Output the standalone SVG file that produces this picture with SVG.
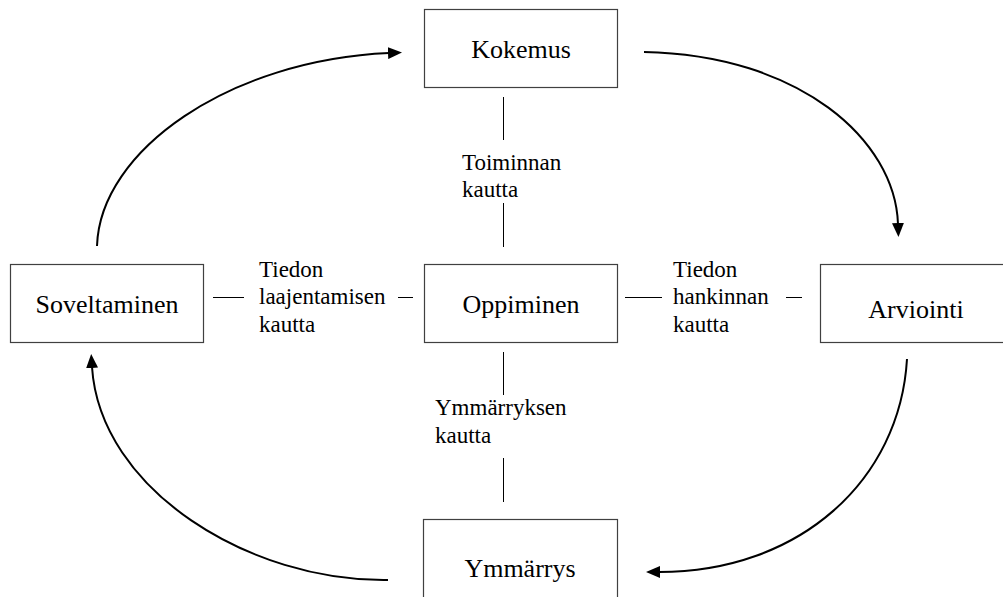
<svg xmlns="http://www.w3.org/2000/svg" width="1003" height="597" viewBox="0 0 1003 597">
<defs>
<style>
.box{fill:#fff;stroke:#404040;stroke-width:1.2}
.nt{font-size:26px;fill:#000;text-anchor:middle}
.lt{font-size:23px;fill:#000}
.ln{stroke:#000;stroke-width:1;fill:none}
.arc{stroke:#000;stroke-width:2;fill:none;marker-end:url(#ah)}
</style>
<marker id="ah" viewBox="0 0 14 12" refX="1" refY="6" markerWidth="14" markerHeight="12" markerUnits="userSpaceOnUse" orient="auto">
<path d="M0,0 L14,6 L0,12 Z" fill="#000"/>
</marker>
</defs>
<rect width="1003" height="597" fill="#fff"/>
<g font-family="'Liberation Serif', 'DejaVu Serif', serif">
<g id="kokemus"><rect class="box" x="424.5" y="9.5" width="193" height="78"/><text class="nt" x="521" y="58">Kokemus</text></g>
<g id="soveltaminen"><rect class="box" x="10.5" y="264.5" width="193" height="78"/><text class="nt" x="107" y="313">Soveltaminen</text></g>
<g id="oppiminen"><rect class="box" x="424.5" y="264.5" width="193" height="78"/><text class="nt" x="521" y="313">Oppiminen</text></g>
<g id="arviointi"><rect class="box" x="820.5" y="264.5" width="193" height="78"/><text class="nt" x="916" y="318">Arviointi</text></g>
<g id="ymmarrys"><rect class="box" x="423.5" y="519.5" width="194" height="90"/><text class="nt" x="520" y="577">Ymmärrys</text></g>
<g id="connectors">
<line class="ln" x1="503.5" y1="97" x2="503.5" y2="140"/>
<line class="ln" x1="503.5" y1="203" x2="503.5" y2="247"/>
<line class="ln" x1="503.5" y1="352" x2="503.5" y2="395"/>
<line class="ln" x1="503.5" y1="458" x2="503.5" y2="502"/>
<line class="ln" x1="213" y1="297.5" x2="244" y2="297.5"/>
<line class="ln" x1="398" y1="297.5" x2="413" y2="297.5"/>
<line class="ln" x1="625" y1="297.5" x2="662" y2="297.5"/>
<line class="ln" x1="786" y1="297.5" x2="802" y2="297.5"/>
<path class="arc" d="M97,246 C100,150 230,60 389,53"/>
<path class="arc" d="M644,52 C800,55 895,140 898,224"/>
<path class="arc" d="M907,359 C900,480 800,572 659,572"/>
<path class="arc" d="M388,580 C250,582 100,490 92,367"/>
</g>
<g id="labels">
<text class="lt" x="462" y="170">Toiminnan</text>
<text class="lt" x="462" y="197">kautta</text>
<text class="lt" x="259" y="277">Tiedon</text>
<text class="lt" x="259" y="304">laajentamisen</text>
<text class="lt" x="259" y="332">kautta</text>
<text class="lt" x="673" y="277">Tiedon</text>
<text class="lt" x="673" y="304">hankinnan</text>
<text class="lt" x="673" y="332">kautta</text>
<text class="lt" x="435" y="415">Ymmärryksen</text>
<text class="lt" x="435" y="443">kautta</text>
</g>
</g>
</svg>
